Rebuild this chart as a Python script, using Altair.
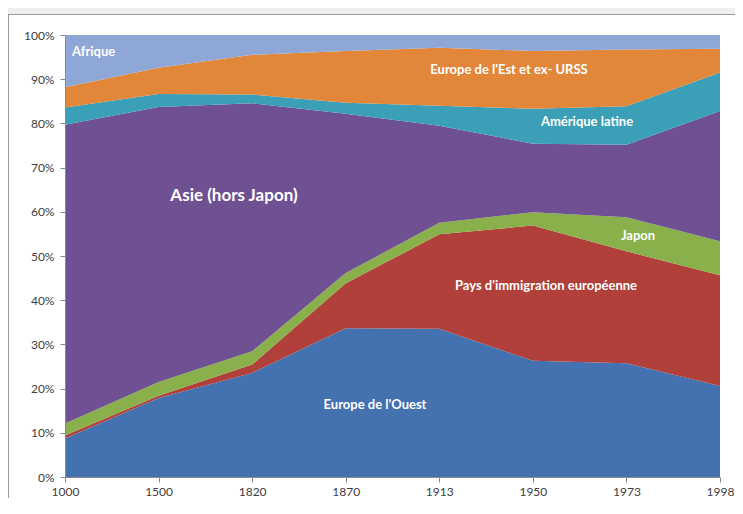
import altair as alt
import pandas as pd

years = ["1000", "1500", "1820", "1870", "1913", "1950", "1973", "1998"]
series = [
    "Europe de l'Ouest",
    "Pays d'immigration européenne",
    "Japon",
    "Asie (hors Japon)",
    "Amérique latine",
    "Europe de l'Est et ex-URSS",
    "Afrique",
]
europe_ouest = [8.7, 17.8, 23.6, 33.6, 33.5, 26.3, 25.7, 20.6]
pays_immigration = [0.7, 0.5, 1.9, 10.2, 21.3, 30.6, 25.3, 25.1]
japon = [2.7, 3.1, 3.0, 2.3, 2.6, 3.0, 7.7, 7.7]
asie = [67.6, 61.9, 56.2, 36.0, 21.9, 15.5, 16.4, 29.5]
amerique_latine = [3.9, 2.9, 2.0, 2.5, 4.5, 7.9, 8.7, 8.7]
europe_est = [4.6, 5.9, 9.0, 11.7, 13.1, 13.1, 12.8, 5.4]
afrique = [11.8, 7.4, 4.5, 3.6, 2.9, 3.6, 3.3, 3.1]

colors = ["#4471b0", "#b1403b", "#89b04b", "#6f5092", "#3b9fb8", "#e2873a", "#8fa7d7"]

all_values = [europe_ouest, pays_immigration, japon, asie, amerique_latine, europe_est, afrique]
rows = []
for k, (name, vals) in enumerate(zip(series, all_values)):
    for y, v in zip(years, vals):
        rows.append({"annee": y, "region": name, "part": v, "ordre": k})
df = pd.DataFrame(rows)

W, H = 655, 442
FONT = "Lato"
one = alt.Data(values=[{}])

frame = alt.Chart(one).mark_rect(fill="white", strokeWidth=0).encode(
    x=alt.value(-57), x2=alt.value(700), y=alt.value(-21), y2=alt.value(480)
)
frame_left = alt.Chart(one).mark_rule(color="#9a9a9a", strokeWidth=1).encode(
    x=alt.value(-56.5), y=alt.value(-21), y2=alt.value(480)
)
frame_top = alt.Chart(one).mark_rule(color="#9a9a9a", strokeWidth=1).encode(
    x=alt.value(-57), x2=alt.value(700), y=alt.value(-20.5)
)

areas = alt.Chart(df).mark_area(opacity=1).encode(
    x=alt.X("annee:O", sort=years, scale=alt.Scale(type="point", padding=0),
            axis=alt.Axis(title=None, labelAngle=0, labelFont=FONT, labelFontSize=12,
                          labelColor="#404040", tickColor="#8a8a8a", domainColor="#8a8a8a",
                          tickSize=5, labelPadding=4, zindex=1)),
    y=alt.Y("part:Q", stack="normalize",
            axis=alt.Axis(title=None, format=".0%", values=[i / 10 for i in range(11)],
                          grid=False, labelFont=FONT, labelFontSize=12, labelColor="#404040",
                          tickColor="#8a8a8a", domainColor="#8a8a8a", tickSize=5,
                          labelPadding=6, zindex=1)),
    color=alt.Color("region:N", scale=alt.Scale(domain=series, range=colors), legend=None),
    order=alt.Order("ordre:Q", sort="ascending"),
)


def label(text, x, y, size=13, align="center"):
    return alt.Chart(alt.Data(values=[{"t": text}])).mark_text(
        font=FONT, fontWeight="bold", fontSize=size, color="white", align=align,
        baseline="middle"
    ).encode(text="t:N", x=alt.value(x), y=alt.value(y))


labels = [
    label("Afrique", 7, 17, 13, "left"),
    label("Europe de l'Est et ex- URSS", 444, 35, 13),
    label("Amérique latine", 522, 87, 13),
    label("Asie (hors Japon)", 169, 161, 17),
    label("Japon", 573, 201, 13),
    label("Pays d'immigration européenne", 481, 251, 13),
    label("Europe de l'Ouest", 310, 370, 13),
]

chart = alt.layer(frame, frame_left, frame_top, areas, *labels).properties(
    width=W, height=H,
    autosize=alt.AutoSizeParams(type="none"),
    padding={"left": 57, "top": 27, "right": 15, "bottom": 21},
    background="#efefef",
).configure_view(stroke="#b5b5b5", strokeWidth=1)

chart.save("out.html", embed_options={"renderer": "svg", "actions": False})
